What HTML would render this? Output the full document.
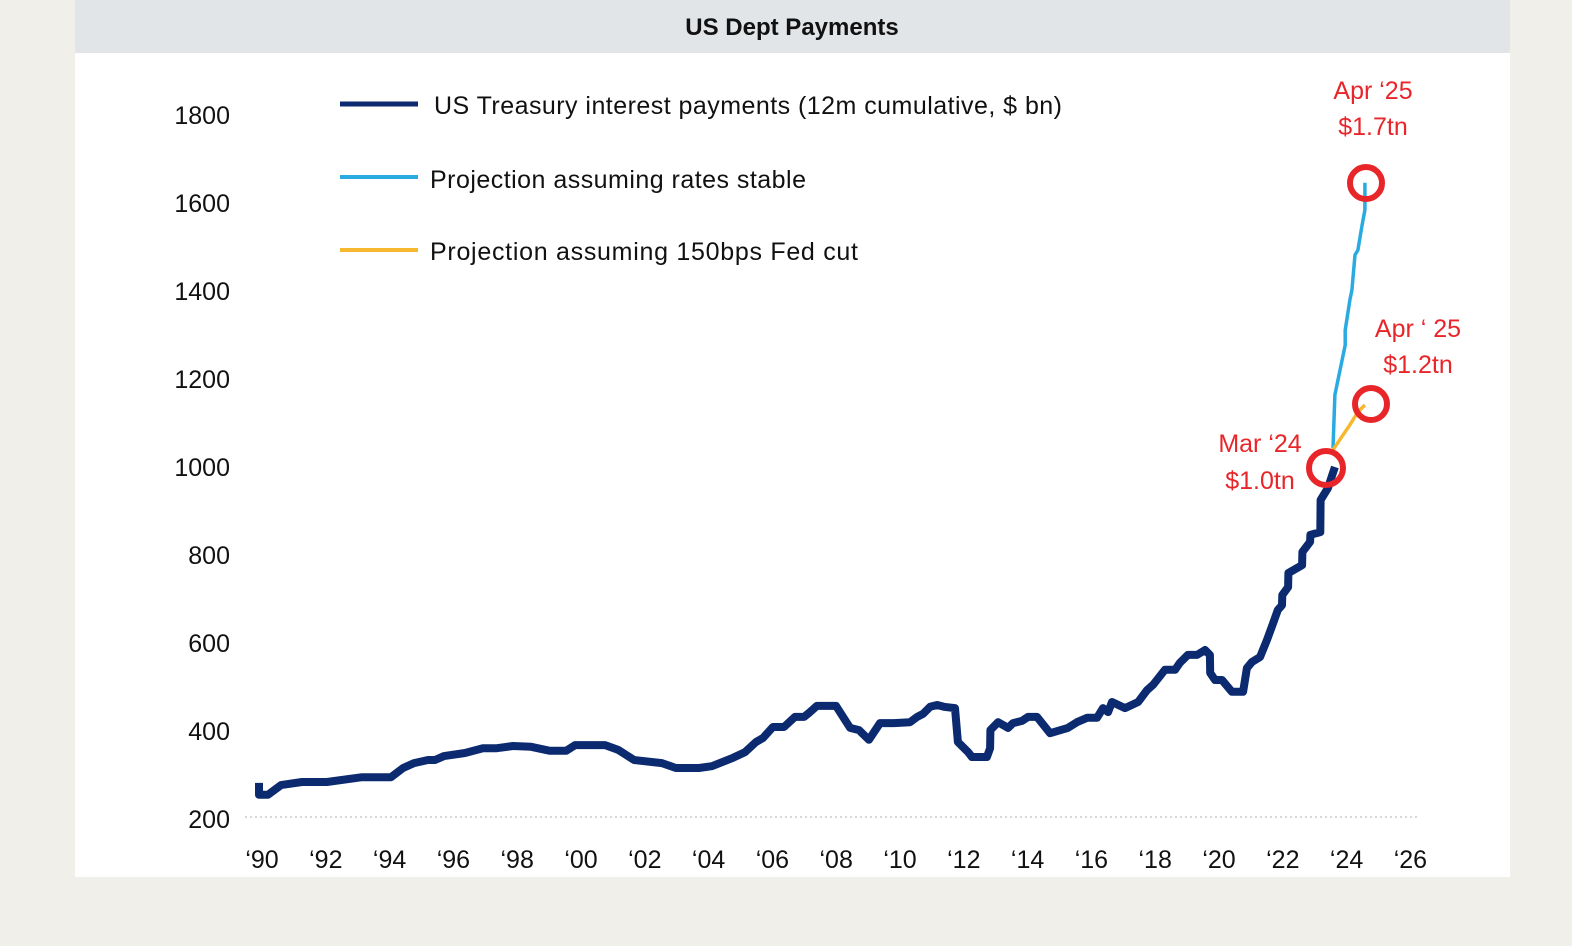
<!DOCTYPE html>
<html><head><meta charset="utf-8"><style>
body{margin:0;width:1572px;height:946px;background:#f1efea;overflow:hidden;font-family:"Liberation Sans",sans-serif}
</style></head><body>
<svg width="1572" height="946" style="position:absolute;left:0;top:0">
<rect x="75" y="0" width="1435" height="877" fill="#fff"/>
<rect x="75" y="0" width="1435" height="53" fill="#e1e5e8"/>
<text x="792" y="35" text-anchor="middle" font-size="24" font-weight="bold" fill="#111">US Dept Payments</text>
<line x1="245" y1="817" x2="1420" y2="817" stroke="#ccc" stroke-width="1.5" stroke-dasharray="2,3"/>
<g id="yt"></g><g id="xt"></g><g id="series"></g>
<g>
<line x1="340" y1="104" x2="418" y2="104" stroke="#0b2a6f" stroke-width="5"/>
<text x="434" y="114" font-size="25" fill="#111" textLength="628">US Treasury interest payments (12m cumulative, $ bn)</text>
<line x1="340" y1="177" x2="418" y2="177" stroke="#29abe2" stroke-width="4"/>
<text x="430" y="188" font-size="25" fill="#111" textLength="376">Projection assuming rates stable</text>
<line x1="340" y1="250" x2="418" y2="250" stroke="#f5b82e" stroke-width="4"/>
<text x="430" y="260" font-size="25" fill="#111" textLength="428">Projection assuming 150bps Fed cut</text>
</g>
<g fill="#e8262a" font-size="25" text-anchor="middle">
<text x="1373" y="99">Apr ‘25</text>
<text x="1373" y="135">$1.7tn</text>
<text x="1418" y="337">Apr ‘ 25</text>
<text x="1418" y="373">$1.2tn</text>
<text x="1260" y="452">Mar ‘24</text>
<text x="1260" y="489">$1.0tn</text>
</g>
<g fill="none" stroke="#e8262a" stroke-width="6">
<circle cx="1366" cy="183" r="16"/>
<circle cx="1371" cy="404" r="16"/>
<circle cx="1326" cy="468" r="17"/>
</g>
</svg>
<script>
const actualYears=[1990.03,1990.03,1990.31,1990.72,1991.38,1992.16,1993.26,1994.17,1994.55,1994.89,1995.33,1995.55,1995.83,1996.49,1997.05,1997.49,1997.99,1998.56,1999.15,1999.66,1999.94,2000.88,2001.29,2001.79,2002.66,2003.10,2003.82,2004.23,2004.89,2005.27,2005.61,2005.83,2006.14,2006.49,2006.83,2007.12,2007.27,2007.52,2008.12,2008.56,2008.84,2009.15,2009.50,2009.94,2010.44,2010.66,2010.85,2011.07,2011.29,2011.50,2011.85,2011.94,2012.26,2012.38,2012.85,2012.95,2012.96,2013.20,2013.51,2013.67,2013.95,2014.14,2014.42,2014.83,2015.39,2015.67,2015.99,2016.30,2016.49,2016.65,2016.77,2017.18,2017.59,2017.87,2018.06,2018.43,2018.75,2018.90,2019.15,2019.44,2019.69,2019.84,2019.85,2020.00,2020.22,2020.53,2020.88,2021.00,2021.16,2021.41,2021.63,2021.82,2021.97,2022.10,2022.11,2022.29,2022.30,2022.73,2022.74,2022.98,2022.99,2023.30,2023.31,2023.54,2023.76];
const actualValues=[282,255,255,277,284,284,295,295,316,327,334,334,343,350,361,361,366,364,355,355,368,368,357,334,327,316,316,320,339,352,375,384,409,409,432,432,441,457,457,407,402,380,418,418,420,432,439,455,459,455,452,375,352,341,341,361,402,420,407,418,423,432,432,395,407,420,430,430,452,443,466,452,466,493,505,539,539,555,573,573,584,573,532,516,516,489,489,543,557,568,607,645,675,686,709,727,759,777,807,830,846,852,925,952,1000];
const stableYears=[2023.70,2023.76,2024.08,2024.08,2024.23,2024.29,2024.39,2024.48,2024.61,2024.70,2024.70];
const stableValues=[1043,1164,1277,1311,1380,1402,1482,1493,1550,1584,1646];
const cutYears=[2023.70,2024.23,2024.48,2024.70];
const cutValues=[1039,1096,1125,1141];
const yTicks=[200,400,600,800,1000,1200,1400,1600,1800];
const xTickYears=[1990,1992,1994,1996,1998,2000,2002,2004,2006,2008,2010,2012,2014,2016,2018,2020,2022,2024,2026];
const xTickLabels=["‘90","‘92","‘94","‘96","‘98","‘00","‘02","‘04","‘06","‘08","‘10","‘12","‘14","‘16","‘18","‘20","‘22","‘24","‘26"];
const NS="http://www.w3.org/2000/svg";
const X=y=>258+(y-1990)*31.9;
const Y=v=>819-(v-200)*0.44;
const yt=document.getElementById('yt'),xt=document.getElementById('xt'),sg=document.getElementById('series');
yTicks.forEach(v=>{const t=document.createElementNS(NS,'text');
t.setAttribute('x',230);t.setAttribute('y',Y(v)+9);t.setAttribute('text-anchor','end');t.setAttribute('font-size','25');t.setAttribute('fill','#111');t.textContent=v;


yt.appendChild(t);});
xTickYears.forEach((yr,i)=>{const t=document.createElementNS(NS,'text');
t.setAttribute('x',X(yr)+4);t.setAttribute('y',868);t.setAttribute('text-anchor','middle');t.setAttribute('font-size','25');t.setAttribute('fill','#111');t.textContent=xTickLabels[i];


xt.appendChild(t);});
function line(xs,vs,color,w,name){const p=document.createElementNS(NS,'polyline');
p.setAttribute('points',xs.map((x,i)=>X(x).toFixed(1)+','+Y(vs[i]).toFixed(1)).join(' '));
p.setAttribute('fill','none');p.setAttribute('stroke',color);p.setAttribute('stroke-width',w);p.setAttribute('stroke-linejoin','round');


sg.appendChild(p);}
line(stableYears,stableValues,'#29abe2',3.5,'series-projection-stable');
line(cutYears,cutValues,'#f5b82e',3.5,'series-projection-cut');
line(actualYears,actualValues,'#0b2a6f',8,'series-interest-payments');
</script>
</body></html>
